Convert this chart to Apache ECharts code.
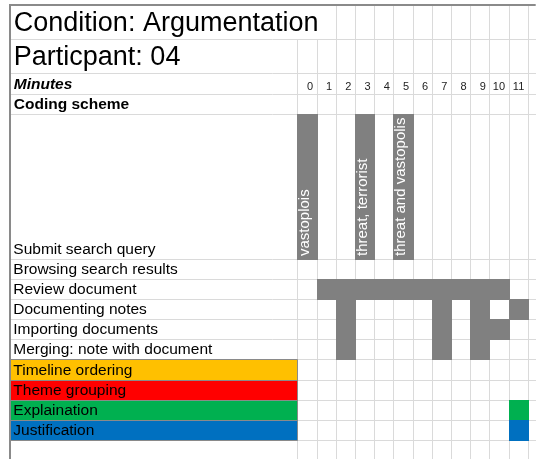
<!DOCTYPE html>
<html>
<head>
<meta charset="utf-8">
<script src="https://cdn.jsdelivr.net/npm/echarts@6/dist/echarts.min.js"></script>
<style>
html, body { margin: 0; padding: 0; background: #fff; }
#chart { width: 536px; height: 459px; }
</style>
</head>
<body>
<div id="chart"></div>
<script>
// --- data ---
const titleText = 'Condition: Argumentation';
const participantText = 'Particpant: 04';
const minutesLabel = 'Minutes';
const schemeLabel = 'Coding scheme';
const minutes = [0, 1, 2, 3, 4, 5, 6, 7, 8, 9, 10, 11];
const activities = [
    'Submit search query',
    'Browsing search results',
    'Review document',
    'Documenting notes',
    'Importing documents',
    'Merging: note with document',
    'Timeline ordering',
    'Theme grouping',
    'Explaination',
    'Justification'
];
const activityColors = [null, null, null, null, null, null, '#FFC000', '#FF0000', '#00B050', '#0070C0'];
// minutes in which each activity was coded
const activeMinutes = [
    [0, 3, 5],
    [],
    [1, 2, 3, 4, 5, 6, 7, 8, 9, 10],
    [2, 7, 9, 11],
    [2, 7, 9, 10],
    [2, 7, 9],
    [],
    [],
    [11],
    [11]
];
const queryMinutes = [0, 3, 5];
const queryTerms = ['vastoplois', 'threat, terrorist', 'threat and vastopolis'];

// --- layout ---
const FONT = '"Liberation Sans", Arial, sans-serif';
const ROW_H = [34, 34, 21, 20, 145, 20, 20, 20, 20, 20, 21, 20, 20, 20, 20];
const FIRST_ACTIVITY_ROW = 4;
const LABEL_SPAN = 15;   // label column width, in minute columns
const X_MAX = 12.43;
const GRID_LINE = '#dadada';
const FRAME = '#8a8a8a';

const rowEdges = [0];
ROW_H.forEach(h => rowEdges.push(rowEdges[rowEdges.length - 1] + h));
const Y_MAX = 454;

const cellData = [];
activeMinutes.forEach((list, a) => list.forEach(m => cellData.push([m, a])));

const colEdges = minutes.concat([minutes.length]);

const chart = echarts.init(document.getElementById('chart'));

function px(v) { return Math.round(v) + 0.5; }

const option = {
    animation: false,
    grid: { left: 9.3, right: 0, top: 5, bottom: 0 },
    xAxis: { type: 'value', min: -LABEL_SPAN, max: X_MAX, show: false },
    yAxis: { type: 'value', min: 0, max: Y_MAX, inverse: true, show: false },
    series: [
        {
            // horizontal grid lines
            type: 'custom', silent: true, z: 1,
            data: rowEdges.slice(1).map(v => [0, v]),
            renderItem(params, api) {
                const a = api.coord([-LABEL_SPAN, api.value(1)]);
                const b = api.coord([X_MAX, api.value(1)]);
                const y = px(a[1]);
                return { type: 'line', shape: { x1: a[0], y1: y, x2: b[0], y2: y }, style: { stroke: GRID_LINE, lineWidth: 1 } };
            }
        },
        {
            // vertical grid lines (the title overflows the first two columns)
            type: 'custom', silent: true, z: 1,
            data: colEdges.map(c => [c, 0]),
            renderItem(params, api) {
                const c = api.value(0);
                const top = c < 2 ? rowEdges[1] : 0;
                const a = api.coord([c, top]);
                const b = api.coord([c, Y_MAX]);
                const x = px(a[0]);
                return { type: 'line', shape: { x1: x, y1: a[1], x2: x, y2: b[1] }, style: { stroke: GRID_LINE, lineWidth: 1 } };
            }
        },
        {
            // activity label cells
            type: 'custom', silent: true, z: 2,
            data: activities.map((n, i) => [0, i]),
            renderItem(params, api) {
                const i = api.value(1);
                const r = FIRST_ACTIVITY_ROW + i;
                const p0 = api.coord([-LABEL_SPAN, rowEdges[r]]);
                const p1 = api.coord([0, rowEdges[r + 1]]);
                const children = [];
                if (activityColors[i]) {
                    children.push({
                        type: 'rect',
                        shape: { x: px(p0[0]), y: px(p0[1]), width: Math.round(p1[0]) - Math.round(p0[0]), height: Math.round(p1[1]) - Math.round(p0[1]) },
                        style: { fill: activityColors[i], stroke: FRAME, lineWidth: 1 }
                    });
                }
                children.push({
                    type: 'text', x: p0[0] + 4, y: p1[1] - 9,
                    style: { text: activities[i], font: '15.5px ' + FONT, fill: '#000', align: 'left', verticalAlign: 'middle' }
                });
                return { type: 'group', children };
            }
        },
        {
            // coded minutes
            type: 'custom', silent: true, z: 3,
            data: cellData,
            renderItem(params, api) {
                const m = api.value(0), a = api.value(1);
                const r = FIRST_ACTIVITY_ROW + a;
                const p0 = api.coord([m, rowEdges[r]]);
                const p1 = api.coord([m + 1, rowEdges[r + 1]]);
                const x0 = Math.round(p0[0]), y0 = Math.round(p0[1]);
                const x1 = Math.round(p1[0]) + 1, y1 = Math.round(p1[1]) + 1;
                return {
                    type: 'rect',
                    shape: { x: x0, y: y0, width: x1 - x0, height: y1 - y0 },
                    style: { fill: activityColors[a] || '#808080' }
                };
            }
        },
        {
            // search terms inside the query bars
            type: 'custom', silent: true, z: 4,
            data: queryMinutes.map((m, i) => [m, i]),
            renderItem(params, api) {
                const m = api.value(0), i = api.value(1);
                const p = api.coord([m + 0.5, rowEdges[FIRST_ACTIVITY_ROW + 1]]);
                return {
                    type: 'text', x: p[0] - 2, y: p[1] - 3, rotation: Math.PI / 2,
                    style: { text: queryTerms[i], font: '15px ' + FONT, fill: '#fff', align: 'left', verticalAlign: 'middle' }
                };
            }
        },
        {
            // minute numbers
            type: 'custom', silent: true, z: 4,
            data: minutes.map(m => [m, 0]),
            renderItem(params, api) {
                const m = api.value(0);
                const p = api.coord([m + 1, rowEdges[3]]);
                return {
                    type: 'text', x: p[0] - 3.5, y: p[1] - 7.3,
                    style: { text: String(m), font: '11px ' + FONT, fill: '#222', align: 'right', verticalAlign: 'middle' }
                };
            }
        },
        {
            // header rows
            type: 'custom', silent: true, z: 4,
            data: [[0, 0], [0, 1], [0, 2], [0, 3]],
            renderItem(params, api) {
                const r = api.value(1);
                const texts = [titleText, participantText, minutesLabel, schemeLabel];
                const fonts = ['27px ', '27px ', 'italic bold 15.5px ', 'bold 15.5px '];
                const lift = [15.7, 15, 9, 9];
                const p = api.coord([-LABEL_SPAN, rowEdges[r + 1]]);
                return {
                    type: 'text', x: p[0] + 4.5, y: p[1] - lift[r],
                    style: { text: texts[r], font: fonts[r] + FONT, fill: '#000', align: 'left', verticalAlign: 'middle' }
                };
            }
        },
        {
            // outer frame: top and left border
            type: 'custom', silent: true, z: 5,
            data: [[0, 0]],
            renderItem(params, api) {
                const a = api.coord([-LABEL_SPAN, 0]);
                const b = api.coord([X_MAX, Y_MAX]);
                return {
                    type: 'group',
                    children: [
                        { type: 'rect', shape: { x: Math.round(a[0]), y: Math.round(a[1]) - 1, width: b[0] - a[0], height: 2 }, style: { fill: FRAME } },
                        { type: 'rect', shape: { x: Math.round(a[0]), y: Math.round(a[1]) - 1, width: 2, height: b[1] - a[1] + 1 }, style: { fill: FRAME } }
                    ]
                };
            }
        }
    ]
};

chart.setOption(option);
</script>
</body>
</html>
